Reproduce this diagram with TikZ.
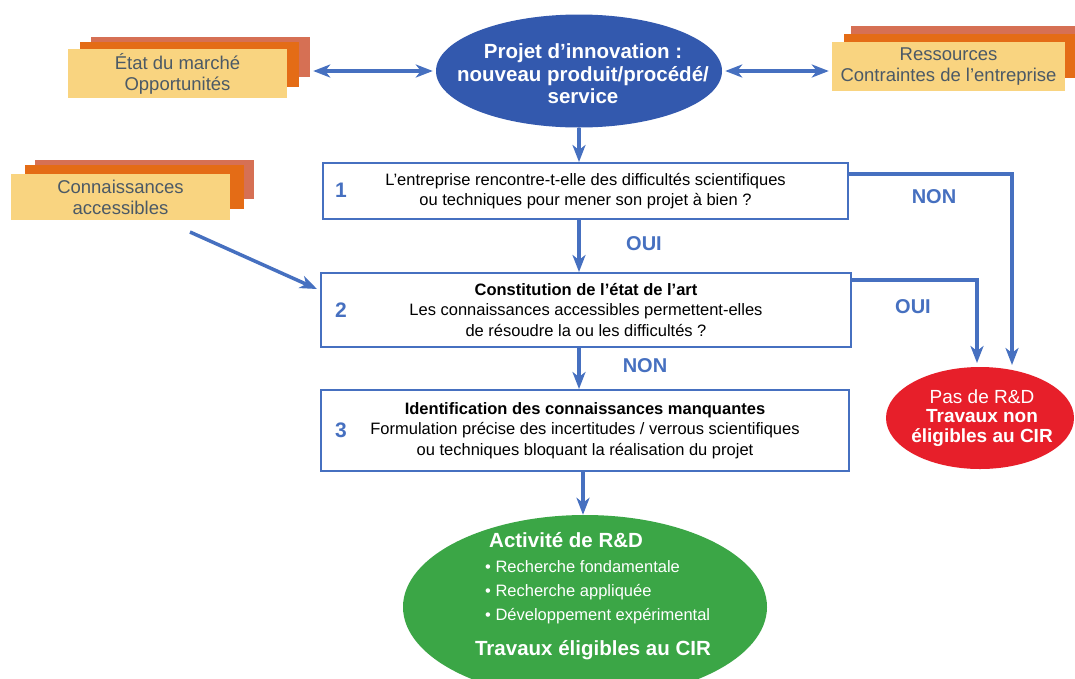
\documentclass[tikz,border=0pt]{standalone}
\usepackage{fontspec}
\setmainfont{Liberation Sans}
\usetikzlibrary{arrows.meta,shapes.geometric,calc}
\definecolor{lineblue}{HTML}{4670C0}
\definecolor{ellblue}{HTML}{3359AE}
\definecolor{pale}{HTML}{F9D480}
\definecolor{orng}{HTML}{E46C16}
\definecolor{rust}{HTML}{D67054}
\definecolor{stacktext}{HTML}{4B5966}
\definecolor{rred}{HTML}{E71F2A}
\definecolor{ggreen}{HTML}{3BA646}
\begin{document}
\begin{tikzpicture}[x=1pt,y=-1pt,
  layer/.style={inner sep=0pt,minimum width=219pt},
  stacktxt/.style={text=stacktext,align=center,font=\fontsize{18.5}{21}\selectfont},
  qbox/.style={draw=lineblue,line width=2pt,fill=white,inner sep=0pt,align=center,
     font=\fontsize{16.5}{20.5}\selectfont},
  numlbl/.style={text=lineblue,font=\fontsize{21}{22}\selectfont\bfseries},
  anslbl/.style={text=lineblue,font=\fontsize{20}{22}\selectfont\bfseries},
  tip/.tip={Stealth[length=17pt,width=13pt,inset=5pt]},
  conn/.style={draw=lineblue,line width=3.5pt,-tip},
  dconn/.style={draw=lineblue,line width=3.5pt,tip-tip},
  oval/.style={ellipse,inner sep=0pt},
  ovaltxt/.style={inner sep=0pt,text=white,align=center}]
\clip (0,0) rectangle (1075,678);
\fill[white] (0,0) rectangle (1075,678);

% État du marché stack
\node[layer,fill=rust,minimum height=40pt] (marcheC) at (200.5,57) {};
\node[layer,fill=orng,minimum height=45pt] (marcheB) at (189.5,64.5) {};
\node[layer,fill=pale,minimum height=49pt,stacktxt] (marche) at (177.5,73.5) {État du marché\\Opportunités};

% Connaissances stack
\node[layer,fill=rust,minimum height=39pt] (connC) at (144.5,179.5) {};
\node[layer,fill=orng,minimum height=44pt] (connB) at (134.5,187) {};
\node[layer,fill=pale,minimum height=46pt,stacktxt] (conn) at (120.5,197) {Connaissances\\accessibles};

% Ressources stack
\node[inner sep=0pt,fill=rust,minimum width=234pt,minimum height=44pt] (ressC) at (968,48) {};
\node[inner sep=0pt,fill=orng,minimum width=241pt,minimum height=44pt] (ressB) at (964.5,56) {};
\node[inner sep=0pt,fill=pale,minimum width=233pt,minimum height=49pt,stacktxt] (ress) at (948.5,66.5) {Ressources\\Contraintes de l’entreprise};

% Projet
\node[oval,fill=ellblue,minimum width=286pt,minimum height=113pt] (projet) at (579,71) {};
\node[ovaltxt,font=\fontsize{20.5}{22.5}\selectfont\bfseries] (projettxt) at (583,74)
  {Projet d’innovation :\\nouveau produit/procédé/\\service};

% Boxes
\node[qbox,minimum width=525pt,minimum height=56pt] (box1) at (585.5,191)
  {L’entreprise rencontre-t-elle des difficultés scientifiques\\ou techniques pour mener son projet à bien ?};
\node[qbox,minimum width=530pt,minimum height=74pt] (box2) at (586,310)
  {\textbf{Constitution de l’état de l’art}\\Les connaissances accessibles permettent-elles\\de résoudre la ou les difficultés ?};
\node[qbox,minimum width=528pt,minimum height=81pt] (box3) at (585,430.5)
  {\textbf{Identification des connaissances manquantes}\\Formulation précise des incertitudes / verrous scientifiques\\ou techniques bloquant la réalisation du projet};
\node[numlbl] (n1) at (341,190) {1};
\node[numlbl] (n2) at (341,310) {2};
\node[numlbl] (n3) at (341,430) {3};

% Red ellipse
\node[oval,fill=rred,minimum width=188pt,minimum height=102pt] (nord) at (980,418) {};
\node[ovaltxt,font=\fontsize{19}{19.5}\selectfont] (nordtxt) at (982,418)
  {Pas de R\&D\\\textbf{Travaux non}\\\textbf{éligibles au CIR}};

% Green ellipse
\node[oval,fill=ggreen,minimum width=364pt,minimum height=184pt] (rd) at (585,607) {};
\node[anchor=west,text=white,inner sep=0pt,font=\fontsize{20.5}{22}\selectfont\bfseries] (rdtitle) at (489,540) {Activité de R\&D};
\node[anchor=west,text=white,inner sep=0pt,font=\fontsize{16.5}{18}\selectfont] (rdb1) at (485,567) {\textbullet\ Recherche fondamentale};
\node[anchor=west,text=white,inner sep=0pt,font=\fontsize{16.5}{18}\selectfont] (rdb2) at (485,592) {\textbullet\ Recherche appliquée};
\node[anchor=west,text=white,inner sep=0pt,font=\fontsize{16.5}{18}\selectfont] (rdb3) at (485,616) {\textbullet\ Développement expérimental};
\node[text=white,inner sep=0pt,font=\fontsize{20.5}{22}\selectfont\bfseries] (rdfoot) at (593,650) {Travaux éligibles au CIR};

% Coordinates
\coordinate (kstart) at (190,232);
\coordinate (tipnon) at (1012,365);
\coordinate (tipoui) at (977,363);

% Connectors
\draw[dconn] ([xshift=3pt]projet.west -| marcheC.east) -- ([xshift=-3pt]projet.west);
\draw[dconn] ([xshift=3pt]projet.east) -- ([xshift=-3pt]projet.east -| ress.west);
\draw[conn] (projet.south) -- (projet.south |- box1.north);
\draw[conn] (projet.south |- box1.south) -- (projet.south |- box2.north);
\draw[conn] (projet.south |- box2.south) -- (projet.south |- box3.north);
\draw[conn] ([xshift=-2pt]rd.north |- box3.south) -- ([xshift=-2pt]rd.north);
\draw[conn] (kstart) -- ([yshift=21pt,xshift=-3pt]box2.west);
\draw[conn] ([yshift=-12pt]box1.north east) -| (tipnon);
\draw[conn] ([yshift=-8pt]box2.north east) -| (tipoui);

% Labels
\node[anslbl] (l1) at (644,244) {OUI};
\node[anslbl] (l2) at (645,366) {NON};
\node[anslbl] (l3) at (934,197) {NON};
\node[anslbl] (l4) at (913,307) {OUI};
\end{tikzpicture}
\end{document}
